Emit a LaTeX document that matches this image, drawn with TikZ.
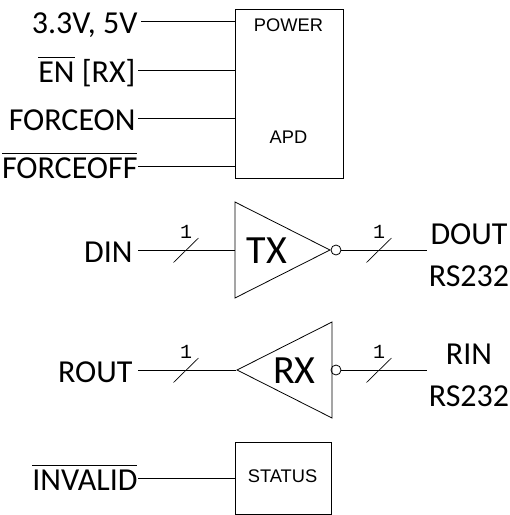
\documentclass[tikz,border=0pt]{standalone}
\usepackage{fontspec}
\usepackage{xcolor}
\usetikzlibrary{shapes.geometric}
\setmainfont{Carlito}
\newfontfamily\boxfont{Liberation Sans}
\newfontfamily\busfont{Liberation Mono}
\newcommand{\sigbar}[2]{\ensuremath{\overline{\rule{0pt}{#1}\mbox{#2}}}}

\begin{document}
\begin{tikzpicture}[
    x=0.75pt, y=-0.75pt, line width=0.75pt,
    siglabel/.style={anchor=east, inner xsep=1.5pt, inner ysep=0pt, text height=18pt, text depth=0pt,
                     font=\fontsize{24}{26}\selectfont},
    portlabel/.style={align=center, inner xsep=0.75pt, inner ysep=0pt,
                      font=\fontsize{24}{31.5}\selectfont},
    blockbox/.style={draw, rectangle, inner sep=0pt},
    blocktext/.style={inner sep=0pt, font=\boxfont\fontsize{13.7}{16}\selectfont},
    drvtri/.style={draw, isosceles triangle, isosceles triangle stretches, inner sep=0pt,
                   minimum height=71.25pt, minimum width=72pt, line width=0.6pt},
    drvtext/.style={inner sep=0pt, font=\fontsize{30}{32}\selectfont},
    bubble/.style={draw, circle, inner sep=0pt, minimum size=7.5pt, line width=0.6pt},
    buslabel/.style={inner sep=0pt, font=\busfont\fontsize{15}{17}\selectfont}
]
    \useasboundingbox (0,0) rectangle (510,515);

    % control block
    \node[blockbox, minimum width=81pt, minimum height=126.75pt] (apdbox) at (289,93.5) {};
    \node[blocktext] (power) at (288.5,25) {POWER};
    \node[blocktext] (apd) at (288.5,137) {APD};

    \node[siglabel, inner xsep=2.25pt] (vcc) at (141,21) {3.3V, 5V};
    \node[siglabel] (en) at (138,70) {\sigbar{17.5pt}{EN} [RX]};
    \node[siglabel] (fon) at (138,118) {FORCEON};
    \node[siglabel, inner xsep=0pt] (foff) at (138,166) {\sigbar{17pt}{FORCEOFF}};
    \draw (vcc.east) -- (apdbox.west |- vcc.east);
    \draw (en.east) -- (apdbox.west |- en.east);
    \draw (fon.east) -- (apdbox.west |- fon.east);
    \draw (foff.east) -- (apdbox.west |- foff.east);

    % transmitter
    \node[drvtri, anchor=apex] (tx) at (331,250) {};
    \node[drvtext] (txname) at (267,251) {TX};
    \node[bubble] (txbub) at (336,250) {};
    \node[siglabel, inner xsep=3.75pt] (din) at (138,250) {DIN};
    \node[portlabel] (dout) at (469,255) {DOUT\\RS232};
    \draw (din.east) -- (tx.lower side);
    \draw (txbub.east) -- (txbub.east -| dout.west);

    % receiver
    \node[drvtri, shape border rotate=180, anchor=apex] (rx) at (236,370) {};
    \node[drvtext] (rxname) at (294.5,371) {RX};
    \node[bubble] (rxbub) at (336,370) {};
    \node[siglabel, inner xsep=3.75pt] (rout) at (138,370) {ROUT};
    \node[portlabel] (rin) at (469,375) {RIN\\RS232};
    \draw (rout.east) -- (rx.apex);
    \draw (rxbub.east) -- (rxbub.east -| rin.west);

    % bus width marks
    \foreach \busname/\bx/\by in {txin/186/250, txout/379/250, rxin/186/370, rxout/379/370} {
        \node[buslabel] (\busname) at (\bx,\by-18) {1};
        \draw[line width=0.5pt] (\bx-12.5,\by+12.5) -- (\bx+12.5,\by-12);
    }

    % status block
    \node[blockbox, minimum width=72pt, minimum height=54pt] (statbox) at (283.5,478) {};
    \node[blocktext] (status) at (282.5,476) {STATUS};
    \node[siglabel, inner xsep=0pt] (invalid) at (138,478) {\sigbar{17.5pt}{INVALID}};
    \draw (invalid.east) -- (statbox.west);
\end{tikzpicture}
\end{document}
